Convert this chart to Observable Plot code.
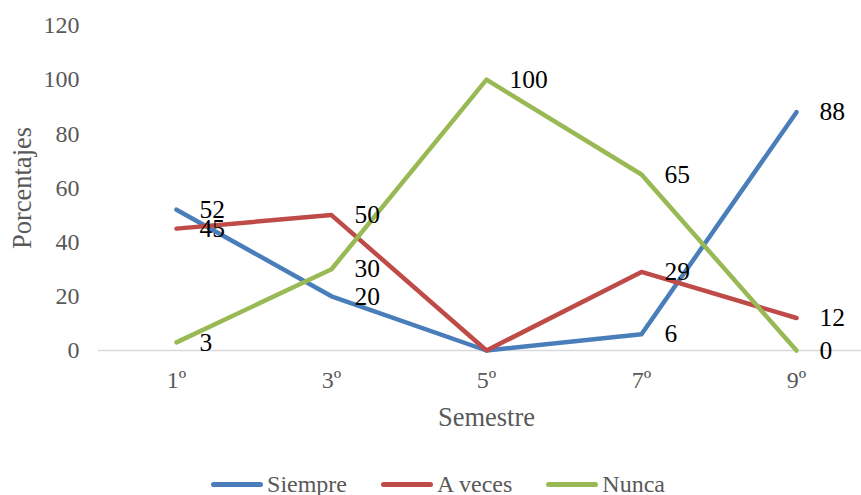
<!DOCTYPE html>
<html>
<head>
<meta charset="utf-8">
<script src="https://cdn.jsdelivr.net/npm/d3@7"></script>
<script src="https://cdn.jsdelivr.net/npm/@observablehq/plot@0.6"></script>
<style>
  html, body { margin: 0; padding: 0; background: #fff; overflow: hidden; }
  #wrap { position: relative; width: 861px; height: 495px; }
  #legend { position: absolute; left: 0; top: 472px; width: 861px; height: 24px;
    display: flex; justify-content: center; align-items: center;
    font-family: "Liberation Serif"; font-size: 24px; color: #595959;
    line-height: 24px; padding-left: 15px; box-sizing: border-box; }
  .item { display: flex; align-items: center; margin: 0 17px; }
  .sw { width: 52px; height: 5px; border-radius: 3px; margin-right: 4px; }
  svg text { font-family: "Liberation Serif"; }
</style>
</head>
<body>
<div id="wrap"><div id="chart"></div><div id="legend"></div></div>
<script>
const semestres = ["1º", "3º", "5º", "7º", "9º"];
const siempre = [52, 20, 0, 6, 88];
const aVeces = [45, 50, 0, 29, 12];
const nunca = [3, 30, 100, 65, 0];
// data labels as shown in the chart (the two zero labels at 5º are not shown)
const siempreEtiquetas = ["52", "20", "", "6", "88"];
const aVecesEtiquetas = ["45", "50", "", "29", "12"];
const nuncaEtiquetas = ["3", "30", "100", "65", "0"];
const series = ["Siempre", "A veces", "Nunca"];
const colores = ["#4A7EBB", "#BE4B48", "#98B954"];
const yTicks = [0, 20, 40, 60, 80, 100, 120];

const valores = [siempre, aVeces, nunca];
const etiquetas = [siempreEtiquetas, aVecesEtiquetas, nuncaEtiquetas];
const data = [];
series.forEach((s, i) => semestres.forEach((sem, j) =>
  data.push({serie: s, sem, v: valores[i][j], etiqueta: etiquetas[i][j]})));

const font = "Liberation Serif";

const chart = Plot.plot({
  width: 861,
  height: 440,
  marginTop: 25,
  marginBottom: 90,
  marginLeft: 98,
  marginRight: 0,
  style: {fontFamily: font, fontSize: "24px", color: "#595959", background: "#fff", overflow: "visible"},
  x: {type: "point", domain: semestres, range: [176, 796], padding: 0, label: null},
  y: {domain: [0, 120], label: null},
  color: {domain: series, range: colores},
  marks: [
    Plot.ruleY([0], {stroke: "#D9D9D9", strokeWidth: 1.5}),
    Plot.axisY({ticks: yTicks, tickSize: 0, tickPadding: 19, label: null, fontSize: 24, fontFamily: font, fontVariant: "normal"}),
    Plot.axisX({tickSize: 0, tickPadding: 20, label: null, fontSize: 24, fontFamily: font, fontVariant: "normal"}),
    Plot.line(data, {x: "sem", y: "v", z: "serie", stroke: "serie", strokeWidth: 4.5,
      strokeLinecap: "round", strokeLinejoin: "round"}),
    Plot.text(data, {x: "sem", y: "v", text: "etiqueta", dx: 23, textAnchor: "start",
      lineAnchor: "middle", fill: "#000", fontSize: 25.5, fontFamily: font}),
    Plot.text(["Porcentajes"], {frameAnchor: "left", dx: -76, rotate: -90, textAnchor: "middle",
      lineAnchor: "middle", fill: "#595959", fontSize: 26.5, fontFamily: font}),
    Plot.text(["Semestre"], {x: () => "5º", frameAnchor: "bottom", dy: 75, textAnchor: "middle",
      lineAnchor: "bottom", fill: "#595959", fontSize: 26.5, fontFamily: font})
  ]
});
document.getElementById("chart").appendChild(chart);

const legend = document.getElementById("legend");
series.forEach((s, i) => {
  const it = document.createElement("div");
  it.className = "item";
  const sw = document.createElement("div");
  sw.className = "sw";
  sw.style.background = colores[i];
  const t = document.createElement("span");
  t.textContent = s;
  it.appendChild(sw);
  it.appendChild(t);
  legend.appendChild(it);
});
</script>
</body>
</html>
